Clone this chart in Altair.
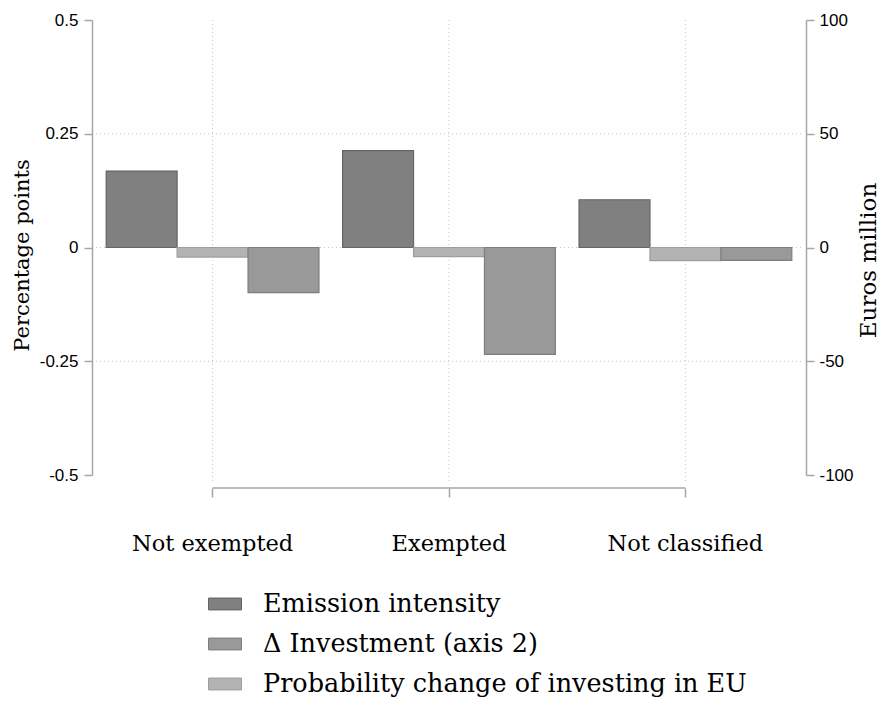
import altair as alt
import pandas as pd

categories = ["Not exempted", "Exempted", "Not classified"]
series = ["Emission intensity", "Δ Investment (axis 2)", "Probability change of investing in EU"]
emission = [0.168, 0.213, 0.105]
probability = [-0.021, -0.020, -0.029]
investment = [-19.8, -47.0, -5.7]
left_ticks = [-0.5, -0.25, 0, 0.25, 0.5]
right_ticks = [-100, -50, 0, 50, 100]
grid_values = [-0.25, 0, 0.25]
fill_colors = ["#808080", "#999999", "#b3b3b3"]
stroke_colors = ["#646464", "#7e7e7e", "#9e9e9e"]

left_df = pd.DataFrame({
    "category": categories * 2,
    "series": [series[0]] * 3 + [series[2]] * 3,
    "value": emission + probability,
})
right_df = pd.DataFrame({"category": categories, "series": [series[1]] * 3, "value": investment})
grid_df = pd.DataFrame({"value": grid_values})
vgrid_df = pd.DataFrame({"category": categories})
xline_df = pd.DataFrame({"category": [categories[0]], "end": [categories[-1]]})

AXIS_GRAY = "#a6a6a6"
GRID_GRAY = "#c4c4c4"
SERIF = "DejaVu Serif"
SANS = "Liberation Sans"

x_axis = alt.Axis(
    title=None, domain=False, grid=False, offset=13, tickSize=9, tickWidth=1.5,
    tickColor=AXIS_GRAY, labelFont=SERIF, labelFontSize=22.5, labelColor="black",
    labelPadding=35, labelAngle=0, bandPosition=0.5,
)
x_scale = alt.Scale(domain=categories, paddingInner=0.1, paddingOuter=0.06)
off_scale = alt.Scale(domain=[series[0], series[2], series[1]], paddingInner=0, paddingOuter=0)
legend = alt.Legend(
    title=None, orient="none", legendX=116, legendY=567, direction="vertical",
    symbolType="M-1,-0.36H1V0.36H-1Z", symbolSize=1089, symbolStrokeWidth=1,
    labelFont=SERIF, labelFontSize=25.5, labelColor="black", labelOffset=21,
    rowPadding=9, padding=0, labelLimit=0,
)
color_enc = alt.Color("series:N", scale=alt.Scale(domain=series, range=fill_colors), legend=legend)
stroke_enc = alt.Stroke("series:N", scale=alt.Scale(domain=series, range=stroke_colors), legend=legend)

vgrid = alt.Chart(vgrid_df).mark_rule(color=GRID_GRAY, strokeDash=[1, 3], strokeWidth=1).encode(
    x=alt.X("category:N", scale=x_scale, axis=x_axis),
    y=alt.value(0), y2=alt.value(463),
)
hgrid = alt.Chart(grid_df).mark_rule(color=GRID_GRAY, strokeDash=[1, 3], strokeWidth=1).encode(
    y=alt.Y("value:Q", scale=alt.Scale(domain=[-0.5, 0.5]), axis=None),
    x=alt.value(4), x2=alt.value(710),
)
xline = alt.Chart(xline_df).mark_rule(color=AXIS_GRAY, strokeWidth=1.5).encode(
    x=alt.X("category:N", scale=x_scale, axis=x_axis),
    x2="end:N",
    y=alt.value(468),
)

left_bars = alt.Chart(left_df).mark_bar(strokeWidth=1.2).encode(
    x=alt.X("category:N", scale=x_scale, axis=x_axis),
    xOffset=alt.XOffset("series:N", scale=off_scale),
    y=alt.Y("value:Q", scale=alt.Scale(domain=[-0.5, 0.5]),
            axis=alt.Axis(orient="left", values=left_ticks, title="Percentage points",
                          grid=False, domainColor=AXIS_GRAY, domainWidth=1.5,
                          tickColor=AXIS_GRAY, tickWidth=1.5, tickSize=8,
                          labelFont=SANS, labelFontSize=17, labelColor="black", labelPadding=6,
                          labelExpr="'' + datum.value",
                          titleFont=SERIF, titleFontSize=21, titleFontWeight="normal",
                          titleColor="black", titleAngle=270, titleX=-70, titleY=235,
                          titleBaseline="middle", titleAlign="center")),
    color=color_enc,
    stroke=stroke_enc,
)
right_bars = alt.Chart(right_df).mark_bar(strokeWidth=1.2).encode(
    x=alt.X("category:N", scale=x_scale, axis=x_axis),
    xOffset=alt.XOffset("series:N", scale=off_scale),
    y=alt.Y("value:Q", scale=alt.Scale(domain=[-100, 100]),
            axis=alt.Axis(orient="right", values=right_ticks, title="Euros million",
                          grid=False, domainColor=AXIS_GRAY, domainWidth=1.5,
                          tickColor=AXIS_GRAY, tickWidth=1.5, tickSize=8,
                          labelFont=SANS, labelFontSize=17, labelColor="black", labelPadding=5,
                          labelExpr="'' + datum.value",
                          titleFont=SERIF, titleFontSize=23, titleFontWeight="normal",
                          titleColor="black", titleAngle=270, titleX=62, titleY=240,
                          titleBaseline="middle", titleAlign="center")),
    color=color_enc,
    stroke=stroke_enc,
)

chart = alt.layer(vgrid, hgrid, xline, left_bars, right_bars).resolve_scale(
    y="independent"
).properties(
    width=714, height=455,
    padding={"left": 84, "top": 12, "right": 74, "bottom": 226},
    autosize=alt.AutoSizeParams(type="none"),
    background="white",
).configure_view(stroke=None)

chart.save("out.html", embed_options={"renderer": "svg", "actions": False})
